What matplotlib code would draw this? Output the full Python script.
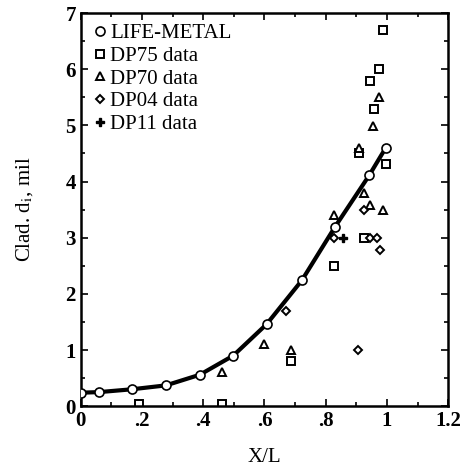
import matplotlib
matplotlib.use("Agg")
import matplotlib.pyplot as plt
from matplotlib.ticker import MultipleLocator, FuncFormatter

plt.rcParams['font.family'] = ['Liberation Serif', 'DejaVu Serif']
plt.rcParams['mathtext.fontset'] = 'stix'

# LIFE-METAL calculation
life_x = [0.002, 0.059, 0.166, 0.278, 0.389, 0.498, 0.607, 0.722, 0.83, 0.942, 0.996]
life_y = [0.24, 0.25, 0.30, 0.37, 0.56, 0.90, 1.46, 2.24, 3.19, 4.11, 4.60]

# measured data
dp75_x = [0.987, 0.975, 0.945, 0.958, 0.909, 0.996, 0.925, 0.828, 0.191, 0.46, 0.687]
dp75_y = [6.70, 6.00, 5.79, 5.30, 4.50, 4.31, 2.99, 2.50, 0.04, 0.03, 0.81]

dp70_x = [0.975, 0.956, 0.909, 0.925, 0.946, 0.986, 0.827, 0.46, 0.60, 0.687]
dp70_y = [5.50, 4.99, 4.59, 3.80, 3.59, 3.49, 3.40, 0.61, 1.10, 1.00]

dp04_x = [0.925, 0.827, 0.945, 0.969, 0.976, 0.907, 0.670]
dp04_y = [3.49, 2.99, 2.99, 2.99, 2.79, 1.00, 1.70]

dp11_x = [0.856]
dp11_y = [2.99]

fig = plt.figure(figsize=(4.62, 4.69), dpi=100)
ax = fig.add_axes([0.175, 0.134, 0.795, 0.838])

ax.plot(life_x, life_y, '-', color='black', lw=3, zorder=2)
ax.plot(life_x, life_y, 'o', ls='none', mfc='white', mec='black', mew=1.2, ms=6.5,
        label='LIFE-METAL', zorder=3)
ax.plot(dp75_x, dp75_y, 's', ls='none', mfc='white', mec='black', mew=1.4, ms=5.2,
        label='DP75 data')
ax.plot(dp70_x, dp70_y, '^', ls='none', mfc='white', mec='black', mew=1.4, ms=5.2,
        label='DP70 data')
ax.plot(dp04_x, dp04_y, 'D', ls='none', mfc='white', mec='black', mew=1.4, ms=4.2,
        label='DP04 data')
ax.plot(dp11_x, dp11_y, 'P', ls='none', color='black', ms=6,
        label='DP11 data')

ax.set_xlim(0, 1.2)
ax.set_ylim(0, 7)
ax.xaxis.set_major_locator(MultipleLocator(0.2))
ax.xaxis.set_minor_locator(MultipleLocator(0.1))
ax.yaxis.set_major_locator(MultipleLocator(1))
ax.yaxis.set_minor_locator(MultipleLocator(0.5))


def fmt_x(v, pos):
    s = ('%.1f' % v).rstrip('0').rstrip('.')
    if s.startswith('0.'):
        s = s[1:]
    return s


ax.xaxis.set_major_formatter(FuncFormatter(fmt_x))
ax.tick_params(which='both', direction='in', top=True, right=True, width=1.2)
ax.tick_params(which='major', length=5, labelsize=15)
ax.tick_params(which='minor', length=3)
for lab in ax.get_xticklabels() + ax.get_yticklabels():
    lab.set_fontweight('bold')
for sp in ax.spines.values():
    sp.set_linewidth(1.8)

ax.set_xlabel('X/L', fontsize=15, labelpad=12)
ax.set_ylabel('Clad. d$_\\mathrm{i}$, mil', fontsize=15, labelpad=22)

ax.legend(loc='upper left', frameon=False, fontsize=15, handletextpad=0.1,
          handlelength=0.8, borderaxespad=0.2, labelspacing=0.15, borderpad=0.3)

fig.savefig('out.png', dpi=100)
